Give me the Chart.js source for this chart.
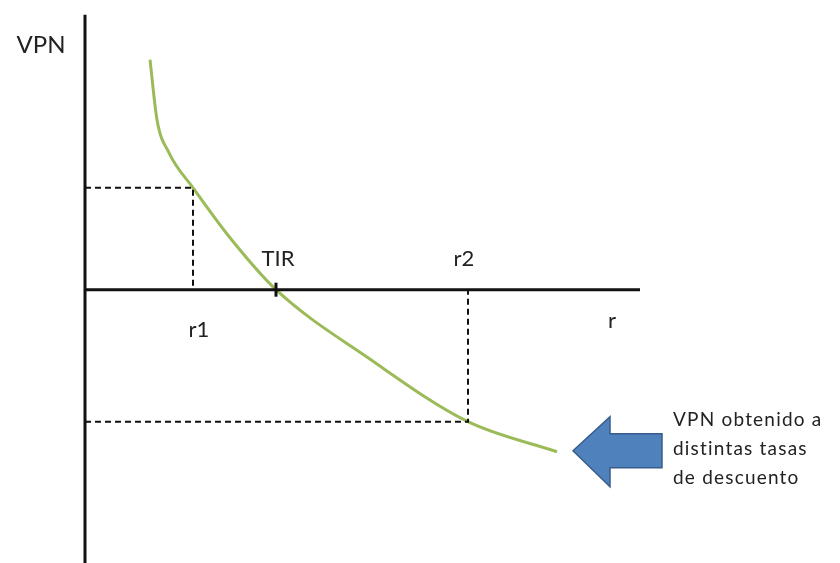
<!DOCTYPE html>
<html>
<head>
<meta charset="utf-8">
<script src="https://cdn.jsdelivr.net/npm/chart.js@4.4.1/dist/chart.umd.min.js"></script>
<style>
  html, body { margin: 0; padding: 0; background: #fff; }
  #wrap { width: 840px; height: 563px; }
</style>
</head>
<body>
<div id="wrap"><canvas id="chart"></canvas></div>
<script>
// tasa de descuento (r) y VPN de la curva
const rValues   = [2.6, 2.88, 3.36, 4.32, 5.8, 7.64, 11.32, 15.32, 18.88];
const vpnValues = [84.2, 62.2, 50.1, 37.3, 19.0, 0, -24.9, -48.3, -59.3];

// puntos marcados
const r1 = 4.32, tir = 7.64, r2 = 15.32;
const vpnR1 = 37.3, vpnR2 = -48.3;

// ejes
const rAxisEnd = 22.2;
const vpnAxisTop = 100.6, vpnAxisBottom = -100;

// textos
const axisLabels = ['VPN', 'r'];
const pointLabels = ['r1', 'TIR', 'r2'];
const noteLines = ['VPN obtenido a', 'distintas tasas', 'de descuento'];

const curve = rValues.map((r, i) => ({ x: r, y: vpnValues[i] }));

const labelsPlugin = {
  id: 'labels',
  afterDatasetsDraw(chart) {
    const { ctx, scales: { x, y } } = chart;
    ctx.save();
    ctx.fillStyle = '#222';
    ctx.textBaseline = 'middle';
    ctx.textAlign = 'center';
    const x0 = x.getPixelForValue(0), y0 = y.getPixelForValue(0);
    ctx.font = '24px Lato, "Open Sans", sans-serif';
    ctx.fillText(axisLabels[0], x0 - 44, y.getPixelForValue(vpnAxisTop) + 31);
    ctx.font = '22px Lato, "Open Sans", sans-serif';
    ctx.fillText(axisLabels[1], x.getPixelForValue(rAxisEnd) - 28, y0 + 31);
    ctx.fillText(pointLabels[0], x.getPixelForValue(r1) + 6, y0 + 40);
    ctx.fillText(pointLabels[1], x.getPixelForValue(tir) + 2, y0 - 31);
    ctx.fillText(pointLabels[2], x.getPixelForValue(r2) - 4, y0 - 31);

    // marca de la TIR
    ctx.strokeStyle = '#111';
    ctx.lineWidth = 3;
    ctx.beginPath();
    ctx.moveTo(x.getPixelForValue(tir), y0 - 7);
    ctx.lineTo(x.getPixelForValue(tir), y0 + 7);
    ctx.stroke();

    // flecha azul junto al final de la curva
    const last = curve[curve.length - 1];
    const tx = x.getPixelForValue(last.x) + 16, ty = y.getPixelForValue(last.y) - 1;
    ctx.fillStyle = '#4f81bd';
    ctx.strokeStyle = '#385d8a';
    ctx.lineWidth = 1.5;
    ctx.beginPath();
    ctx.moveTo(tx, ty);
    ctx.lineTo(tx + 37, ty - 34);
    ctx.lineTo(tx + 37, ty - 17);
    ctx.lineTo(tx + 89, ty - 17);
    ctx.lineTo(tx + 89, ty + 17);
    ctx.lineTo(tx + 37, ty + 17);
    ctx.lineTo(tx + 37, ty + 36);
    ctx.closePath();
    ctx.fill();
    ctx.stroke();

    ctx.fillStyle = '#222';
    ctx.textAlign = 'left';
    ctx.font = '19px Lato, "Open Sans", sans-serif';
    ctx.letterSpacing = '1.2px';
    noteLines.forEach((t, i) => ctx.fillText(t, tx + 100, ty - 31 + i * 29));
    ctx.restore();
  }
};

const black = '#111';
const dashed = { borderColor: black, borderWidth: 2, borderDash: [6, 4], pointRadius: 0, showLine: true, fill: false, clip: false };

new Chart(document.getElementById('chart'), {
  type: 'scatter',
  data: {
    datasets: [
      { data: [{ x: 0, y: vpnR1 }, { x: r1, y: vpnR1 }, { x: r1, y: 0 }], ...dashed },
      { data: [{ x: 0, y: vpnR2 }, { x: r2, y: vpnR2 }, { x: r2, y: 0 }], ...dashed },
      { data: [{ x: 0, y: vpnAxisTop }, { x: 0, y: vpnAxisBottom }], borderColor: black, borderWidth: 3, pointRadius: 0, showLine: true, clip: false },
      { data: [{ x: 0, y: 0 }, { x: rAxisEnd, y: 0 }], borderColor: black, borderWidth: 3, pointRadius: 0, showLine: true, clip: false },
      { data: curve, borderColor: '#9bbb59', borderWidth: 3, pointRadius: 0, showLine: true, cubicInterpolationMode: 'monotone' }
    ]
  },
  options: {
    responsive: true,
    maintainAspectRatio: false,
    animation: false,
    layout: { padding: { left: 85, right: 0, top: 0, bottom: 0 } },
    plugins: { legend: { display: false }, tooltip: { enabled: false } },
    scales: {
      x: { type: 'linear', min: 0, max: 30.2, display: false },
      y: { type: 'linear', min: -100, max: 106, display: false }
    }
  },
  plugins: [labelsPlugin]
});
</script>
</body>
</html>
